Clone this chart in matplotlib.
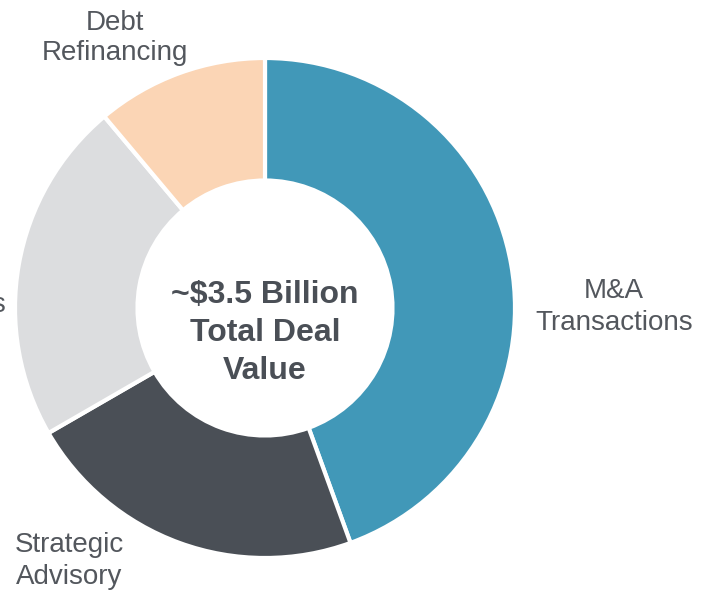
import matplotlib
matplotlib.use("Agg")
import matplotlib.pyplot as plt

categories = ["M&A\nTransactions", "Strategic\nAdvisory", "Capital Raises", "Debt\nRefinancing"]
values = [1.56, 0.78, 0.78, 0.39]
colors = ["#4198b8", "#4a4f56", "#dcdddf", "#fbd5b5"]
center_label = "~$3.5 Billion\nTotal Deal\nValue"

W, H = 704, 591
fig = plt.figure(figsize=(W / 100, H / 100), dpi=100)
ax = fig.add_axes([0, 0, 1, 1])

cx, cy, R = 265, H - 308, 250
ax.pie(values, colors=colors, startangle=90, counterclock=False,
       center=(cx, cy), radius=R, frame=True,
       wedgeprops=dict(width=R * 0.49, edgecolor="white", linewidth=3))
ax.set_xlim(0, W)
ax.set_ylim(0, H)
ax.set_aspect("equal")
ax.axis("off")

font = ["Liberation Sans", "DejaVu Sans"]
tc = "#53575d"
lab_pos = [(614, 307, "center"), (69, 561, "center"), (6, 305, "right"), (115, 38, "center")]
for name, (x, y, ha) in zip(categories, lab_pos):
    ax.text(x, H - y, name, ha=ha, va="center", fontsize=20, color=tc,
            family=font, linespacing=1.25)

ax.text(cx, H - 333, center_label, ha="center", va="center", fontsize=23,
        fontweight="bold", color="#4a4f56", family=font, linespacing=1.33)

fig.savefig("out.png", dpi=100)
